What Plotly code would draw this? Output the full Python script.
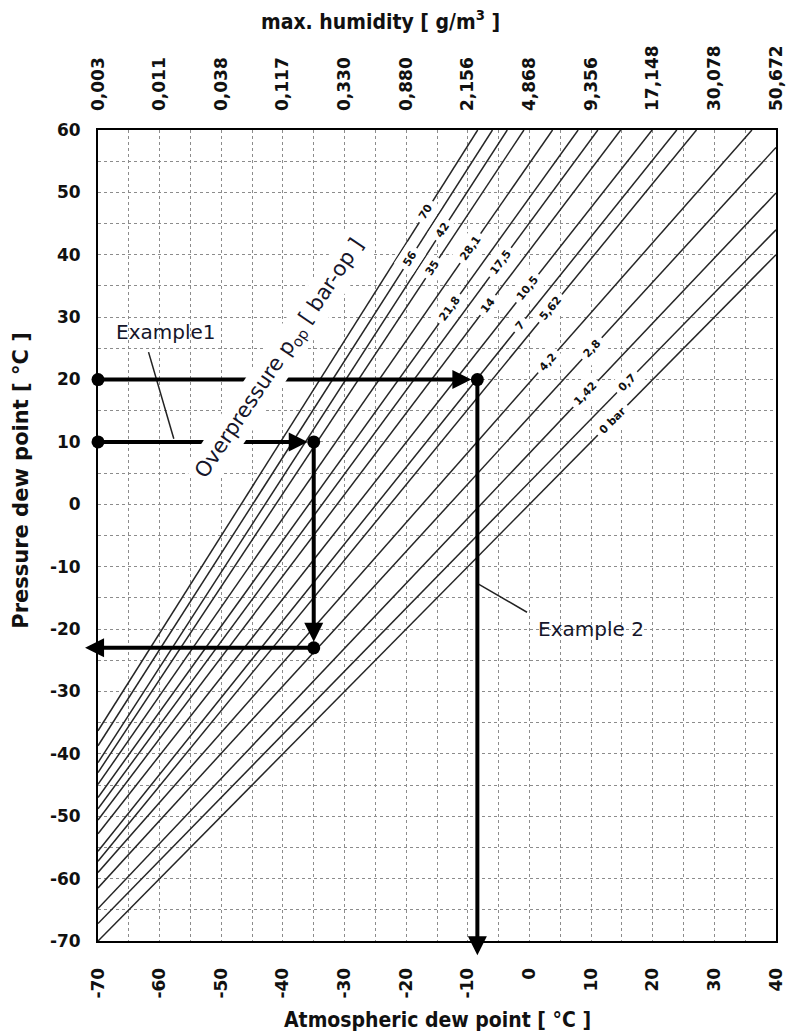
import math
import plotly.graph_objects as go

# Atmospheric dew point ticks (bottom axis) and the max. humidity at each (top axis)
dew_ticks = [-70, -60, -50, -40, -30, -20, -10, 0, 10, 20, 30, 40]
dew_tick_labels = ["-70", "-60", "-50", "-40", "-30", "-20", "-10", "0", "10", "20", "30", "40"]
humidity_labels = ["0,003", "0,011", "0,038", "0,117", "0,330", "0,880",
                   "2,156", "4,868", "9,356", "17,148", "30,078", "50,672"]
pressure_ticks = [-70, -60, -50, -40, -30, -20, -10, 0, 10, 20, 30, 40, 50, 60]
pressure_tick_labels = ["-70", "-60", "-50", "-40", "-30", "-20", "-10",
                        "0", "10", "20", "30", "40", "50", "60"]

# Overpressure lines [bar-op]
pressure_labels = ["70", "56", "42", "35", "28,1", "21,8", "17,5", "14",
                   "10,5", "7", "5,62", "4,2", "2,8", "1,42", "0,7", "0 bar"]
# pressure dew point of each line at an atmospheric dew point of -70 °C
start_y = [-36.3, -38.7, -41.4, -43.0, -44.9, -47.0, -48.8, -50.6,
           -52.8, -55.6, -57.2, -59.0, -61.5, -64.8, -67.2, -70.0]
# upper end of each line (top or right border)
end_x = [-8.4, -6.0, -3.6, -0.9, 3.75, 7.9, 11.1, 14.8,
         19.9, 23.9, 27.1, 36.1, 40.0, 40.0, 40.0, 40.0]
end_y = [60.0, 60.0, 60.0, 60.0, 60.0, 60.0, 60.0, 60.0,
         60.0, 60.0, 60.0, 60.0, 57.2, 49.9, 44.0, 40.0]
# pressure dew point at which each line carries its label
label_y = [46.9, 39.4, 43.9, 37.8, 41.0, 31.4, 38.8, 31.9,
           34.6, 28.7, 31.4, 22.8, 25.0, 17.7, 19.6, 13.5]

# Worked examples: path vertices (atmospheric dew point, pressure dew point)
example1_x = [-70, -35, -35, -72.1]
example1_y = [10, 10, -23, -23]
example2_x = [-70, -8.45, -8.45]
example2_y = [20, 20, -72.3]

X_RANGE = [-70, 40]
Y_RANGE = [-70, 60]
W, H = 795, 1036
M = dict(l=98, r=9, t=130, b=95)
PX_X = (W - M["l"] - M["r"]) / (X_RANGE[1] - X_RANGE[0])
PX_Y = (H - M["t"] - M["b"]) / (Y_RANGE[1] - Y_RANGE[0])

SANS = "DejaVu Sans, Liberation Sans, sans-serif"
COND = "DejaVu Sans Condensed, DejaVu Sans, Liberation Sans, sans-serif"
TICK_FONT = dict(family=SANS, size=17, color="#111", weight="bold")
TITLE_FONT = dict(family=COND, size=21, color="#111", weight="bold")
TEXT_COLOR = "#15152a"

fig = go.Figure()

# overpressure lines
for sy, ex, ey in zip(start_y, end_x, end_y):
    fig.add_trace(go.Scatter(x=[X_RANGE[0], ex], y=[sy, ey], mode="lines",
                             line=dict(color="#262626", width=1.5),
                             hoverinfo="skip", showlegend=False))

annotations = []

# line labels sit on the line with a white gap around them
for lab, sy, ex, ey, ly in zip(pressure_labels, start_y, end_x, end_y, label_y):
    t = (ly - sy) / (ey - sy)
    lx = X_RANGE[0] + t * (ex - X_RANGE[0])
    ang = math.degrees(math.atan2((ey - sy) * PX_Y, (ex - X_RANGE[0]) * PX_X))
    annotations.append(dict(x=lx, y=ly, xref="x", yref="y", text=lab, showarrow=False,
                            textangle=-ang, bgcolor="white", borderpad=4,
                            font=dict(family=SANS, size=11, color="#111", weight="bold")))

# example leader lines
fig.add_trace(go.Scatter(x=[-61.8, -57.7], y=[24.4, 10.5], mode="lines",
                         line=dict(color="#222", width=1.5), hoverinfo="skip", showlegend=False))
fig.add_trace(go.Scatter(x=[-8.4, -0.4], y=[-12.7, -17.3], mode="lines",
                         line=dict(color="#222", width=1.5), hoverinfo="skip", showlegend=False))

# example paths: dots at the vertices, arrows along the segments
for xs, ys in ((example1_x, example1_y), (example2_x, example2_y)):
    fig.add_trace(go.Scatter(x=xs[:-1], y=ys[:-1], mode="markers",
                             marker=dict(color="black", size=13), cliponaxis=False,
                             hoverinfo="skip", showlegend=False))
    for i in range(len(xs) - 1):
        last = i == len(xs) - 2
        annotations.append(dict(x=xs[i + 1], y=ys[i + 1], ax=xs[i], ay=ys[i],
                                xref="x", yref="y", axref="x", ayref="y", text="",
                                showarrow=True, arrowhead=2, arrowsize=0.95, arrowwidth=4,
                                arrowcolor="black", standoff=0 if last else 6))

annotations += [
    dict(x=-59.0, y=27.6, xref="x", yref="y", text="Example1", showarrow=False,
         font=dict(family=SANS, size=20, color=TEXT_COLOR)),
    dict(x=10.0, y=-20.0, xref="x", yref="y", text="Example 2", showarrow=False,
         font=dict(family=SANS, size=20, color=TEXT_COLOR)),
    dict(x=-40.4, y=23.4, xref="x", yref="y",
         text="Overpressure p<sub>op</sub> [ bar-op ]", showarrow=False,
         textangle=-56, bgcolor="white", borderpad=4,
         font=dict(family=SANS, size=21, color=TEXT_COLOR)),
    # axis titles
    dict(x=0.5, y=-0.0974, xref="paper", yref="paper", text="Atmospheric dew point [ °C ]",
         showarrow=False, font=TITLE_FONT, xanchor="center", yanchor="middle"),
    dict(x=0.416, y=1.1356, xref="paper", yref="paper",
         text="max. humidity [ g/m<sup>3</sup> ]",
         showarrow=False, font=TITLE_FONT, xanchor="center", yanchor="middle"),
    dict(x=-0.113, y=0.568, xref="paper", yref="paper", text="Pressure dew point [ °C ]",
         showarrow=False, textangle=-90, font=dict(family=SANS, size=21, color="#111",
                                                    weight="bold"),
         xanchor="center", yanchor="middle"),
]

# invisible trace carrying the top axis
fig.add_trace(go.Scatter(x=dew_ticks, y=[0] * len(dew_ticks), xaxis="x2", mode="markers",
                         marker=dict(opacity=0), hoverinfo="skip", showlegend=False))

grid = dict(gridcolor="#8c8c8c", griddash="dot", gridwidth=1)

fig.update_layout(
    width=W, height=H, margin=M,
    paper_bgcolor="white", plot_bgcolor="white",
    annotations=annotations,
    xaxis=dict(range=X_RANGE, tickmode="array", tickvals=dew_ticks,
               ticktext=dew_tick_labels, tickangle=-90,
               tickfont=TICK_FONT, showgrid=True, **grid,
               minor=dict(tickmode="linear", tick0=-70, dtick=5, showgrid=True, **grid),
               showline=True, linecolor="black", linewidth=2, mirror=True,
               zeroline=False, ticks="", ticklabelstandoff=18),
    xaxis2=dict(range=X_RANGE, overlaying="x", side="top", tickmode="array",
                tickvals=dew_ticks, ticktext=humidity_labels, tickangle=-90,
                tickfont=TICK_FONT, showgrid=False, showline=False, zeroline=False,
                ticks="", ticklabelstandoff=18),
    yaxis=dict(range=Y_RANGE, tickmode="array", tickvals=pressure_ticks,
               ticktext=pressure_tick_labels,
               tickfont=TICK_FONT, showgrid=True, **grid,
               minor=dict(tickmode="linear", tick0=-70, dtick=5, showgrid=True, **grid),
               showline=True, linecolor="black", linewidth=2, mirror=True,
               zeroline=False, ticks="", ticklabelstandoff=12),
)

fig.write_html("out.html")
